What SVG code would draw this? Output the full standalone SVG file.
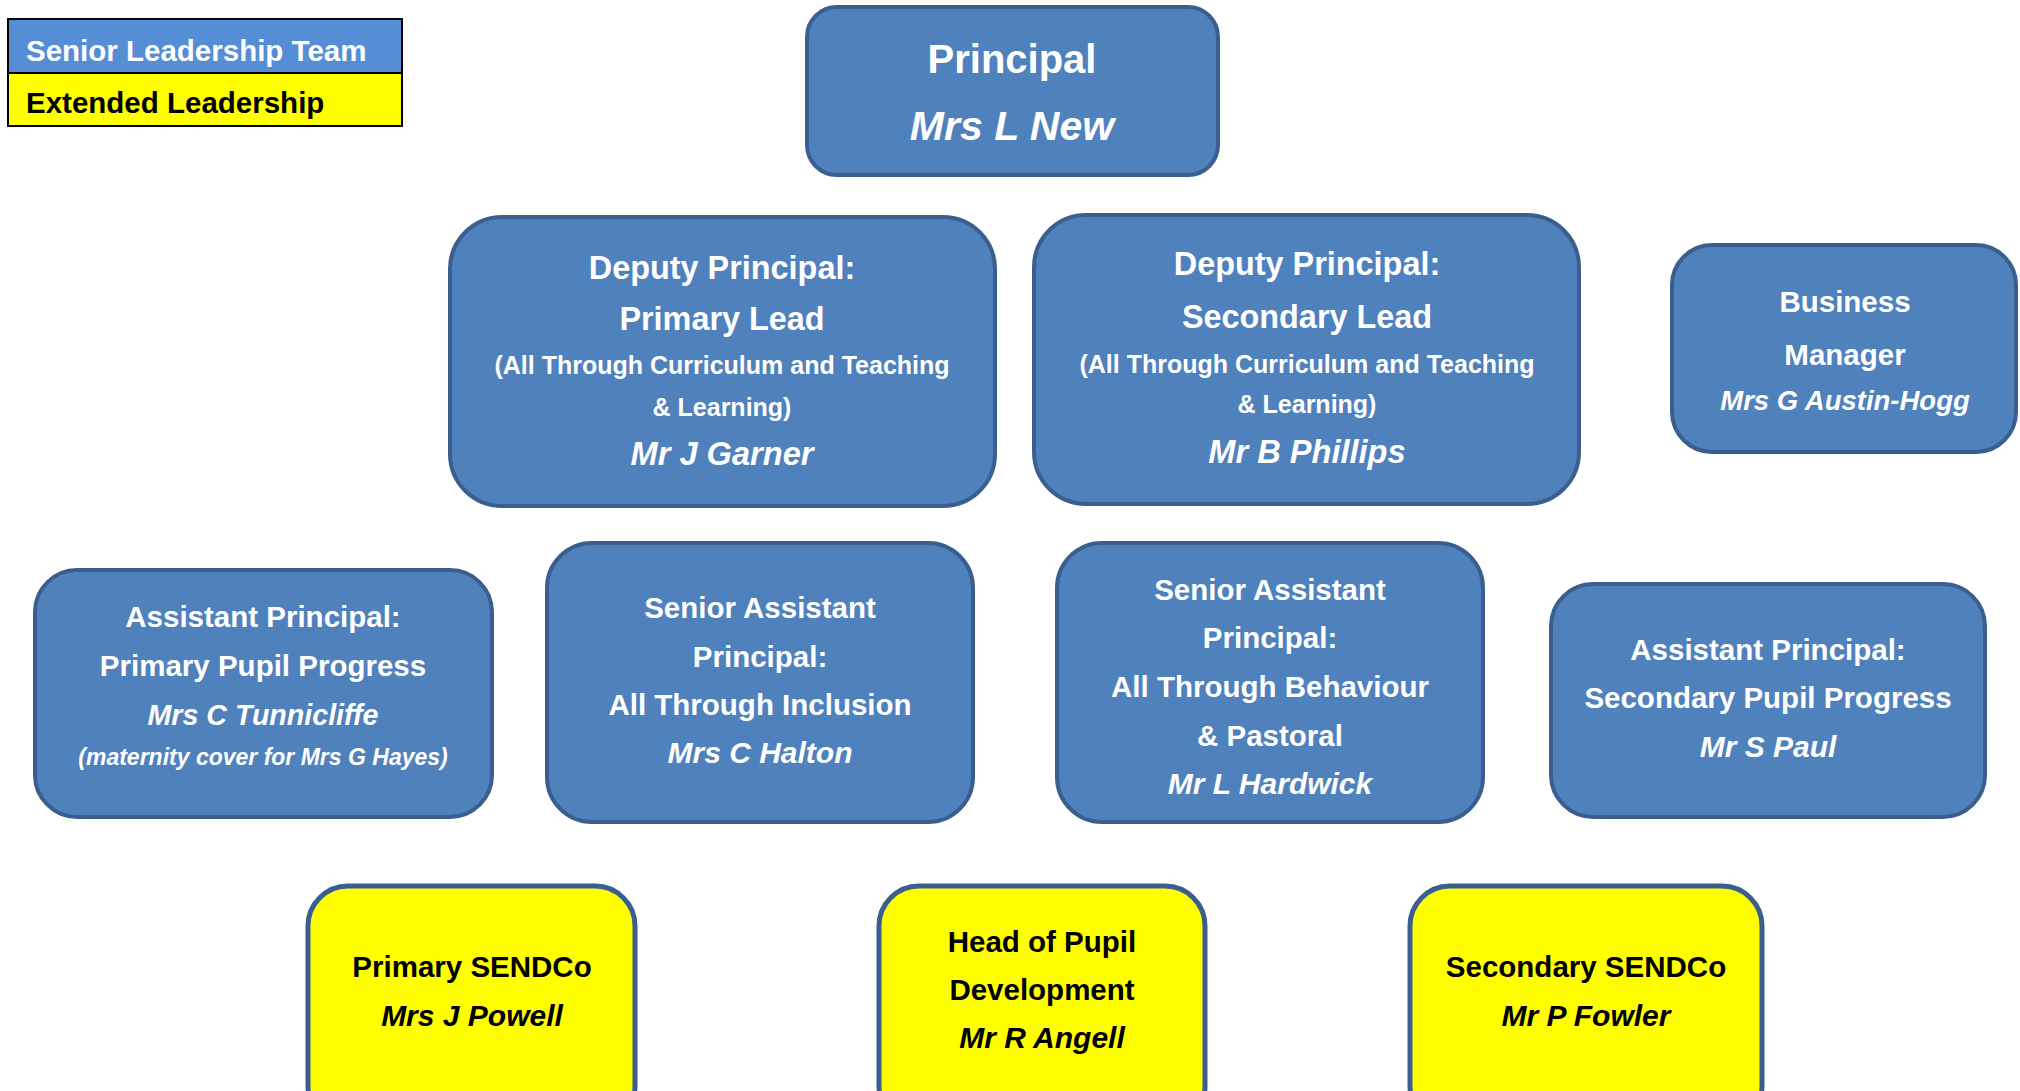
<svg xmlns="http://www.w3.org/2000/svg" width="2020" height="1091" viewBox="0 0 2020 1091">
<style>
  text { font-family: "Liberation Sans", Arial, sans-serif; font-weight: bold; text-anchor: middle; }
  .slt { fill: #4F81BD; stroke: #3A5F8F; stroke-width: 4; }
  .ext { fill: #FFFF00; stroke: #3A5F8F; stroke-width: 5; }
  .w { fill: #FFFFFF; }
  .k { fill: #000000; }
  .t { font-size: 29.5px; }
  .n { font-size: 30px; font-style: italic; }
  .dt { font-size: 32.4px; }
  .ds { font-size: 25px; }
  .dn { font-size: 32.6px; font-style: italic; }
  .legtxt { font-size: 29.5px; text-anchor: start; }
</style>
<rect width="2020" height="1091" fill="#FFFFFF"/>
<g id="legend">
  <rect x="8" y="19" width="394" height="54" fill="#558ED5" stroke="#000" stroke-width="2"/>
  <rect x="8" y="73" width="394" height="53" fill="#FFFF00" stroke="#000" stroke-width="2"/>
  <text class="legtxt w" x="26" y="61">Senior Leadership Team</text>
  <text class="legtxt k" x="26" y="113">Extended Leadership</text>
</g>
<g id="connectors"></g>
<g id="principal">
  <rect class="slt" x="807" y="7" width="411" height="168" rx="30"/>
  <text class="w" x="1012" y="73" font-size="40">Principal</text>
  <text class="w" x="1012" y="140" font-size="41" font-style="italic">Mrs L New</text>
</g>
<g id="deputy-primary">
  <rect class="slt" x="450" y="217" width="545" height="289" rx="52"/>
  <text class="w dt" x="722" y="279">Deputy Principal:</text>
  <text class="w dt" x="722" y="330">Primary Lead</text>
  <text class="w ds" x="722" y="374">(All Through Curriculum and Teaching</text>
  <text class="w ds" x="722" y="416">&amp; Learning)</text>
  <text class="w dn" x="722" y="465">Mr J Garner</text>
</g>
<g id="deputy-secondary">
  <rect class="slt" x="1034" y="215" width="545" height="289" rx="52"/>
  <text class="w dt" x="1307" y="275">Deputy Principal:</text>
  <text class="w dt" x="1307" y="328">Secondary Lead</text>
  <text class="w ds" x="1307" y="373">(All Through Curriculum and Teaching</text>
  <text class="w ds" x="1307" y="413">&amp; Learning)</text>
  <text class="w dn" x="1307" y="463">Mr B Phillips</text>
</g>
<g id="business-manager">
  <rect class="slt" x="1672" y="245" width="344" height="207" rx="40"/>
  <text class="w t" x="1845" y="312">Business</text>
  <text class="w t" x="1845" y="365">Manager</text>
  <text class="w" x="1845" y="410" font-size="27.5" font-style="italic">Mrs G Austin-Hogg</text>
</g>
<g id="assistant-primary">
  <rect class="slt" x="35" y="570" width="457" height="247" rx="42"/>
  <text class="w t" x="263" y="627">Assistant Principal:</text>
  <text class="w t" x="263" y="676">Primary Pupil Progress</text>
  <text class="w" x="263" y="725" font-size="28.6" font-style="italic">Mrs C Tunnicliffe</text>
  <text class="w" x="263" y="765" font-size="23" font-style="italic">(maternity cover for Mrs G Hayes)</text>
</g>
<g id="senior-assistant-inclusion">
  <rect class="slt" x="547" y="543" width="426" height="279" rx="45"/>
  <text class="w t" x="760" y="618">Senior Assistant</text>
  <text class="w t" x="760" y="667">Principal:</text>
  <text class="w t" x="760" y="715">All Through Inclusion</text>
  <text class="w n" x="760" y="763">Mrs C Halton</text>
</g>
<g id="senior-assistant-behaviour">
  <rect class="slt" x="1057" y="543" width="426" height="279" rx="45"/>
  <text class="w t" x="1270" y="600">Senior Assistant</text>
  <text class="w t" x="1270" y="648">Principal:</text>
  <text class="w t" x="1270" y="697">All Through Behaviour</text>
  <text class="w t" x="1270" y="746">&amp; Pastoral</text>
  <text class="w n" x="1270" y="794">Mr L Hardwick</text>
</g>
<g id="assistant-secondary">
  <rect class="slt" x="1551" y="584" width="434" height="233" rx="42"/>
  <text class="w t" x="1768" y="660">Assistant Principal:</text>
  <text class="w t" x="1768" y="708">Secondary Pupil Progress</text>
  <text class="w n" x="1768" y="757">Mr S Paul</text>
</g>
<g id="primary-sendco">
  <rect class="ext" x="308" y="886" width="327" height="240" rx="40"/>
  <text class="k t" x="472" y="977">Primary SENDCo</text>
  <text class="k n" x="472" y="1026">Mrs J Powell</text>
</g>
<g id="head-of-pupil-development">
  <rect class="ext" x="879" y="886" width="326" height="240" rx="40"/>
  <text class="k t" x="1042" y="952">Head of Pupil</text>
  <text class="k t" x="1042" y="1000">Development</text>
  <text class="k n" x="1042" y="1048">Mr R Angell</text>
</g>
<g id="secondary-sendco">
  <rect class="ext" x="1410" y="886" width="352" height="240" rx="40"/>
  <text class="k t" x="1586" y="977">Secondary SENDCo</text>
  <text class="k n" x="1586" y="1026">Mr P Fowler</text>
</g>
</svg>
